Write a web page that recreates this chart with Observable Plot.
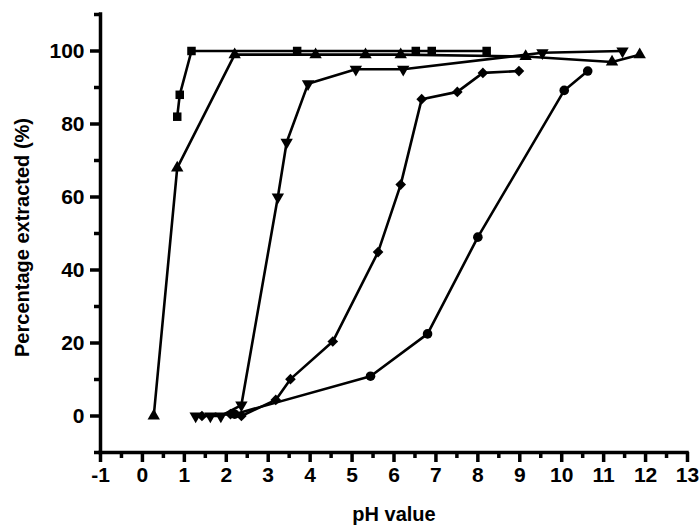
<!DOCTYPE html>
<html>
<head>
<meta charset="utf-8">
<script src="https://cdn.jsdelivr.net/npm/d3@7"></script>
<script src="https://cdn.jsdelivr.net/npm/@observablehq/plot@0.6"></script>
<style>
  html, body { margin: 0; padding: 0; background: #fff; }
</style>
</head>
<body>
<div id="chart"></div>
<script>
// Series (pH, % extracted)
const squareX = [0.83, 0.89, 1.17, 3.69, 6.52, 6.90, 8.21];
const squareY = [82, 88, 100, 100, 100, 100, 100];

const upTriX = [0.27, 0.83, 2.20, 4.13, 5.32, 6.16, 9.14, 11.20, 11.86];
const upTriY = [0, 68, 99, 99, 99, 99, 98.5, 97, 99];

const downTriX = [1.27, 1.62, 1.87, 2.36, 3.23, 3.44, 3.95, 5.09, 6.22, 9.54, 11.45];
const downTriY = [0, 0, 0, 3, 60, 75, 91, 95, 95, 99.5, 100];

const diamondX = [1.42, 2.10, 2.36, 3.18, 3.53, 4.54, 5.62, 6.16, 6.66, 7.51, 8.12, 8.98];
const diamondY = [0, 0.5, 0, 4.4, 10.1, 20.4, 44.9, 63.4, 86.8, 88.8, 94, 94.5];

const circleX = [2.20, 5.44, 6.80, 8.00, 10.06, 10.62];
const circleY = [0.5, 10.9, 22.5, 49, 89.2, 94.5];

const xMajor = d3.range(-1, 14);
const xMinor = d3.range(-0.5, 13, 1);
const yMajor = [0, 20, 40, 60, 80, 100];
const yMinor = [-10, 10, 30, 50, 70, 90, 110];

const xTitle = "pH value";
const yTitle = "Percentage extracted (%)";

function rows(name, xs, ys) { return xs.map((x, i) => ({series: name, x, y: ys[i]})); }
const squares = rows("square", squareX, squareY);
const upTris = rows("up", upTriX, upTriY);
const downTris = rows("down", downTriX, downTriY);
const diamonds = rows("diamond", diamondX, diamondY);
const circles = rows("circle", circleX, circleY);
const all = [...squares, ...upTris, ...downTris, ...diamonds, ...circles];

const lw = 2.6;
const font = "'Liberation Sans', Arial, sans-serif";
const chart = Plot.plot({
  width: 699,
  height: 530,
  marginLeft: 100,
  marginRight: 12,
  marginTop: 14,
  marginBottom: 78,
  x: {domain: [-1, 13], label: null},
  y: {domain: [-10, 110], label: null},
  style: {fontFamily: font, fontWeight: "bold", fontSize: "21px", color: "#000", background: "#fff"},
  marks: [
    Plot.line(all, {x: "x", y: "y", z: "series", stroke: "#000", strokeWidth: lw}),
    Plot.dot(squares, {x: "x", y: "y", symbol: "square", r: 4.8, fill: "#000"}),
    Plot.dot(upTris, {x: "x", y: "y", symbol: "triangle", r: 4.6, fill: "#000"}),
    Plot.dot(downTris, {x: "x", y: "y", symbol: "triangle", rotate: 180, r: 4.6, fill: "#000"}),
    Plot.dot(diamonds, {x: "x", y: "y", symbol: "diamond2", r: 4.8, fill: "#000"}),
    Plot.dot(circles, {x: "x", y: "y", symbol: "circle", r: 4.8, fill: "#000"}),
    Plot.axisX(xMajor, {tickSize: 10, tickPadding: 5, strokeWidth: 3.5, label: null, fontSize: 21, fontWeight: "bold", tickFormat: d => String(d)}),
    Plot.axisX(xMinor, {tickSize: 6, strokeWidth: 3.5, label: null, tickFormat: () => ""}),
    Plot.axisY(yMajor, {tickSize: 10, tickPadding: 6, strokeWidth: 3.5, label: null, fontSize: 21, fontWeight: "bold", tickFormat: d => String(d)}),
    Plot.axisY(yMinor, {tickSize: 6, strokeWidth: 3.5, label: null, tickFormat: () => ""}),
    Plot.ruleY([-10], {stroke: "#000", strokeWidth: 3.5, strokeLinecap: "square"}),
    Plot.ruleX([-1], {stroke: "#000", strokeWidth: 3.5, strokeLinecap: "square"}),
    Plot.text([xTitle], {frameAnchor: "bottom", dy: 68, textAnchor: "middle", fontSize: 20, fontWeight: "bold", fill: "#000"}),
    Plot.text([yTitle], {frameAnchor: "left", dx: -78, dy: 4, textAnchor: "middle", rotate: -90, fontSize: 20, fontWeight: "bold", fill: "#000"})
  ]
});
document.getElementById("chart").appendChild(chart);
</script>
</body>
</html>
